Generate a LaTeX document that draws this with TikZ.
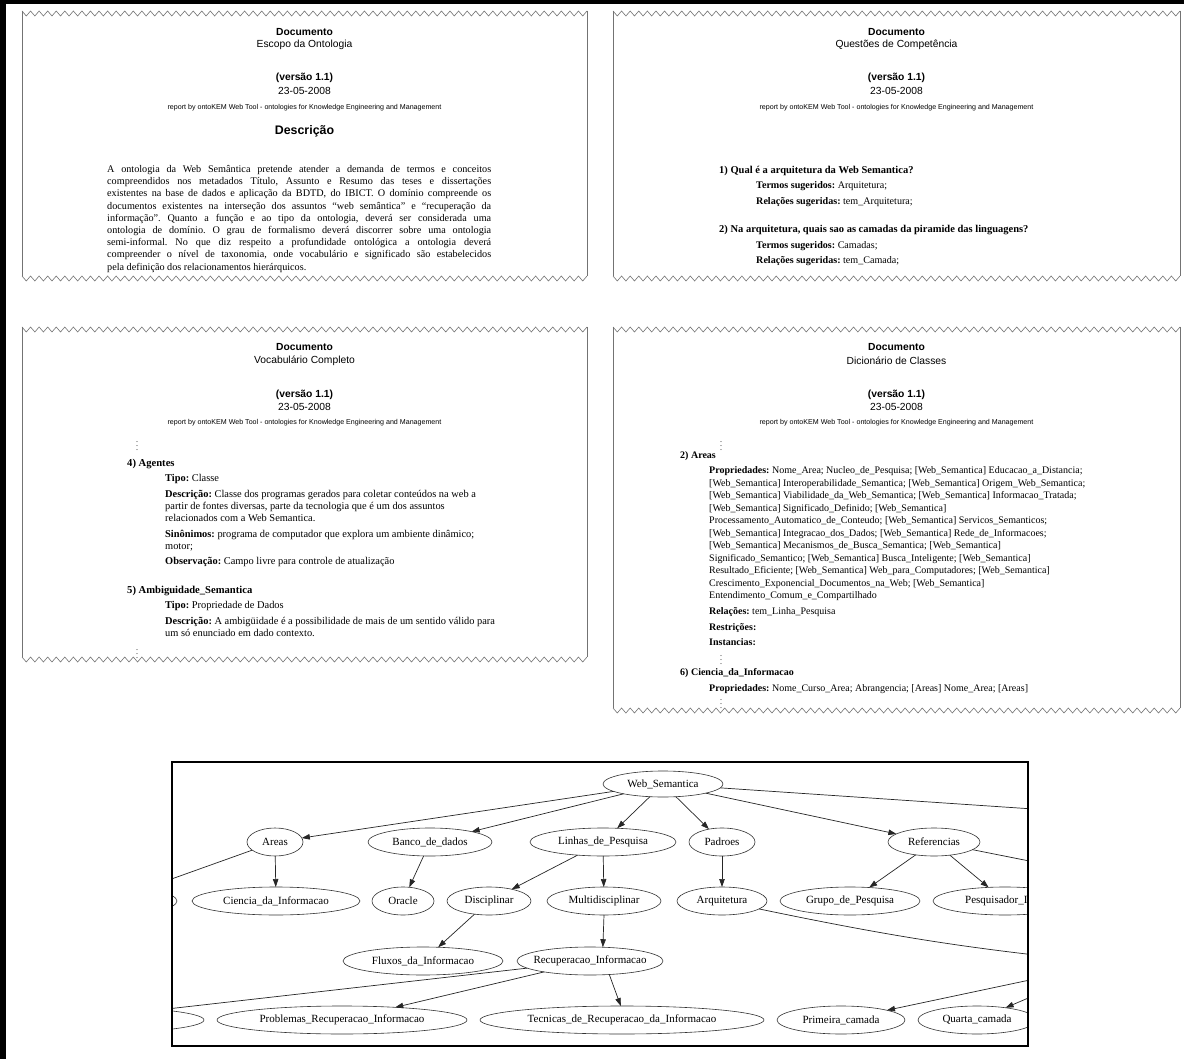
\documentclass[tikz,border=0pt]{standalone}
\usepackage{fontspec}
\setmainfont{Liberation Serif}
\newfontfamily\arialf{Liberation Sans}
\usetikzlibrary{arrows.meta,shapes.geometric}
\frenchspacing
\newcommand\lbl[1]{\makebox[0pt]{#1}}
\newcommand\docpanel[5]{%
 \pgfmathsetmacro\zhalf{(#2-#1)/#5/2}%
 \draw[panelline] (#1,#3) \foreach \i in {1,...,#5}{ -- ++(\zhalf,5) -- ++(\zhalf,-5)};
 \draw[panelline] (#1,#4) \foreach \i in {1,...,#5}{ -- ++(\zhalf,5) -- ++(\zhalf,-5)};
 \draw[panelline] (#1,#3) -- (#1,#4) (#2,#3) -- (#2,#4);
}
\begin{document}
\begin{tikzpicture}[x=1pt,y=-1pt,
  panelline/.style={draw=black!55,line width=0.6pt},
  hdrb/.style={inner sep=0,font=\arialf\bfseries\fontsize{10.3}{12}\selectfont},
  hdr/.style={inner sep=0,font=\arialf\fontsize{10.3}{12}\selectfont},
  rep/.style={inner sep=0,font=\arialf\fontsize{7.1}{9}\selectfont},
  desc/.style={inner sep=0,font=\arialf\bfseries\fontsize{12.4}{14}\selectfont},
  body/.style={inner sep=0,anchor=west,text height=7pt,text depth=2pt,font=\fontsize{10}{12}\selectfont},
  bodyb/.style={body,font=\bfseries\fontsize{10}{12}\selectfont},
  bodyL/.style={body,font=\fontsize{10.4}{12}\selectfont},
  bodyLb/.style={body,font=\bfseries\fontsize{10.6}{12}\selectfont},
  bodyT/.style={body,font=\fontsize{10.1}{12}\selectfont},
  bodyTb/.style={body,font=\bfseries\fontsize{10.5}{12}\selectfont},
  para/.style={body,font=\frenchspacing\fontsize{10.2}{12}\selectfont},
  dots/.style={inner sep=0,font=\fontsize{8}{9}\selectfont},
  gnode/.style={ellipse,draw=black!80,line width=0.6pt,inner sep=0,outer sep=0,minimum height=28pt,font=\fontsize{11}{13}\selectfont},
  gedge/.style={draw=black!85,line width=0.7pt,-{Triangle[length=8pt,width=5.5pt]}}]
\useasboundingbox (0,0) rectangle (1184,1059);
\fill[white] (0,0) rectangle (1184,1059);
\fill[black] (0,0) rectangle (1184,4);
\fill[black] (0,0) rectangle (6,1059);

% ---------- panels ----------
\docpanel{22}{587}{11}{276}{66}
\docpanel{613}{1180}{11}{276}{66}
\docpanel{22}{587}{327}{657}{66}
\docpanel{613}{1180}{327}{708}{66}

% ---------- top-left ----------
\node[hdrb] (a1) at (304.5,32) {Documento};
\node[hdr]  (a2) at (304.5,45) {Escopo da Ontologia};
\node[hdrb] (a3) at (304.5,78) {(versão 1.1)};
\node[hdr]  (a4) at (304.5,91) {23-05-2008};
\node[rep]  (a5) at (304.5,108) {report by ontoKEM Web Tool - ontologies for Knowledge Engineering and Management};
\node[desc] (a6) at (304.5,131) {Descrição};
\node[para] (p1) at (107,170) {\makebox[384pt][s]{A ontologia da Web Semântica pretende atender a demanda de termos e conceitos}};
\node[para] (p2) at (107,182.2) {\makebox[384pt][s]{compreendidos nos metadados Título, Assunto e Resumo das teses e dissertações}};
\node[para] (p3) at (107,194.4) {\makebox[384pt][s]{existentes na base de dados e aplicação da BDTD, do IBICT. O domínio compreende os}};
\node[para] (p4) at (107,206.6) {\makebox[384pt][s]{documentos existentes na interseção dos assuntos “web semântica” e “recuperação da}};
\node[para] (p5) at (107,218.8) {\makebox[384pt][s]{informação”. Quanto a função e ao tipo da ontologia, deverá ser considerada uma}};
\node[para] (p6) at (107,231) {\makebox[384pt][s]{ontologia de domínio. O grau de formalismo deverá discorrer sobre uma ontologia}};
\node[para] (p7) at (107,243.2) {\makebox[384pt][s]{semi-informal. No que diz respeito a profundidade ontológica a ontologia deverá}};
\node[para] (p8) at (107,255.4) {\makebox[384pt][s]{compreender o nível de taxonomia, onde vocabulário e significado são estabelecidos}};
\node[para] (p9) at (107,267.6) {pela definição dos relacionamentos hierárquicos.};

% ---------- top-right ----------
\node[hdrb] (b1) at (896.5,32) {Documento};
\node[hdr]  (b2) at (896.5,45) {Questões de Competência};
\node[hdrb] (b3) at (896.5,78) {(versão 1.1)};
\node[hdr]  (b4) at (896.5,91) {23-05-2008};
\node[rep]  (b5) at (896.5,108) {report by ontoKEM Web Tool - ontologies for Knowledge Engineering and Management};
\node[bodyTb] (q1) at (719,171) {1) Qual é a arquitetura da Web Semantica?};
\node[bodyT] (q2) at (756,186) {\textbf{Termos sugeridos:} Arquitetura;};
\node[bodyT] (q3) at (756,202) {\textbf{Relações sugeridas:} tem\_Arquitetura;};
\node[bodyTb] (q4) at (719,230) {2) Na arquitetura, quais sao as camadas da piramide das linguagens?};
\node[bodyT] (q5) at (756,246) {\textbf{Termos sugeridos:} Camadas;};
\node[bodyT] (q6) at (756,261) {\textbf{Relações sugeridas:} tem\_Camada;};

% ---------- bottom-left ----------
\node[hdrb] (c1) at (304.5,347) {Documento};
\node[hdr]  (c2) at (304.5,361) {Vocabulário Completo};
\node[hdrb] (c3) at (304.5,395) {(versão 1.1)};
\node[hdr]  (c4) at (304.5,407) {23-05-2008};
\node[rep]  (c5) at (304.5,423) {report by ontoKEM Web Tool - ontologies for Knowledge Engineering and Management};
\node[dots] (cd1) at (137,443) {$\vdots$};
\node[bodyLb] (v1) at (127,464) {4) Agentes};
\node[bodyL] (v2) at (165,479) {\textbf{Tipo:} Classe};
\node[bodyL] (v3) at (165,495) {\textbf{Descrição:} Classe dos programas gerados para coletar conteúdos na web a};
\node[bodyL] (v4) at (165,507) {partir de fontes diversas, parte da tecnologia que é um dos assuntos};
\node[bodyL] (v5) at (165,519) {relacionados com a Web Semantica.};
\node[bodyL] (v6) at (165,535) {\textbf{Sinônimos:} programa de computador que explora um ambiente dinâmico;};
\node[bodyL] (v7) at (165,547) {motor;};
\node[bodyL] (v8) at (165,562) {\textbf{Observação:} Campo livre para controle de atualização};
\node[bodyLb] (v9) at (127,591) {5) Ambiguidade\_Semantica};
\node[bodyL] (v10) at (165,606) {\textbf{Tipo:} Propriedade de Dados};
\node[bodyL] (v11) at (165,622) {\textbf{Descrição:} A ambigüidade é a possibilidade de mais de um sentido válido para};
\node[bodyL] (v12) at (165,634) {um só enunciado em dado contexto.};
\node[dots] (cd2) at (137,651) {$\vdots$};

% ---------- bottom-right ----------
\node[hdrb] (d1) at (896.5,347) {Documento};
\node[hdr]  (d2) at (896.5,361) {Dicionário de Classes};
\node[hdrb] (d3) at (896.5,395) {(versão 1.1)};
\node[hdr]  (d4) at (896.5,407) {23-05-2008};
\node[rep]  (d5) at (896.5,423) {report by ontoKEM Web Tool - ontologies for Knowledge Engineering and Management};
\node[dots] (dd1) at (721,443) {$\vdots$};
\node[bodyb] (e1) at (680,456) {2) Areas};
\node[body] (e2) at (709,471) {\textbf{Propriedades:} Nome\_Area; Nucleo\_de\_Pesquisa; [Web\_Semantica] Educacao\_a\_Distancia;};
\node[body] (e3) at (709,483.5) {[Web\_Semantica] Interoperabilidade\_Semantica; [Web\_Semantica] Origem\_Web\_Semantica;};
\node[body] (e4) at (709,496) {[Web\_Semantica] Viabilidade\_da\_Web\_Semantica; [Web\_Semantica] Informacao\_Tratada;};
\node[body] (e5) at (709,508.5) {[Web\_Semantica] Significado\_Definido; [Web\_Semantica]};
\node[body] (e6) at (709,521) {Processamento\_Automatico\_de\_Conteudo; [Web\_Semantica] Servicos\_Semanticos;};
\node[body] (e7) at (709,533.5) {[Web\_Semantica] Integracao\_dos\_Dados; [Web\_Semantica] Rede\_de\_Informacoes;};
\node[body] (e8) at (709,546) {[Web\_Semantica] Mecanismos\_de\_Busca\_Semantica; [Web\_Semantica]};
\node[body] (e9) at (709,558.5) {Significado\_Semantico; [Web\_Semantica] Busca\_Inteligente; [Web\_Semantica]};
\node[body] (e10) at (709,571) {Resultado\_Eficiente; [Web\_Semantica] Web\_para\_Computadores; [Web\_Semantica]};
\node[body] (e11) at (709,583.5) {Crescimento\_Exponencial\_Documentos\_na\_Web; [Web\_Semantica]};
\node[body] (e12) at (709,596) {Entendimento\_Comum\_e\_Compartilhado};
\node[body] (e13) at (709,612) {\textbf{Relações:} tem\_Linha\_Pesquisa};
\node[bodyb] (e14) at (709,628) {Restrições:};
\node[bodyb] (e15) at (709,643) {Instancias:};
\node[dots] (dd2) at (721,657) {$\vdots$};
\node[bodyb] (e16) at (680,673) {6) Ciencia\_da\_Informacao};
\node[body] (e17) at (709,689) {\textbf{Propriedades:} Nome\_Curso\_Area; Abrangencia; [Areas] Nome\_Area; [Areas]};
\node[dots] (dd3) at (721,701) {$\vdots$};

% ---------- graph ----------
\begin{scope}
\clip (172,762) rectangle (1028,1046);
\node[gnode,minimum width=120pt,minimum height=26pt] (ws) at (663,784) {\lbl{Web\_Semantica}};
\node[gnode,minimum width=56pt] (areas) at (275,842) {\lbl{Areas}};
\node[gnode,minimum width=124pt] (banco) at (430,842) {\lbl{Banco\_de\_dados}};
\node[gnode,minimum width=146pt] (linhas) at (603,842) {\lbl{Linhas\_de\_Pesquisa}};
\node[gnode,minimum width=66pt] (padroes) at (722,842) {\lbl{Padroes}};
\node[gnode,minimum width=92pt] (refs) at (934,842) {\lbl{Referencias}};
\node[gnode,minimum width=134pt] (hidL2) at (110,901) {};
\node[gnode,minimum width=168pt] (ciencia) at (276,901) {\lbl{Ciencia\_da\_Informacao}};
\node[gnode,minimum width=62pt] (oracle) at (403,901) {\lbl{Oracle}};
\node[gnode,minimum width=84pt] (discip) at (489,901) {\lbl{Disciplinar}};
\node[gnode,minimum width=114pt] (multi) at (604,901) {\lbl{Multidisciplinar}};
\node[gnode,minimum width=90pt] (arq) at (722,901) {\lbl{Arquitetura}};
\node[gnode,minimum width=140pt] (grupo) at (850,901) {\lbl{Grupo\_de\_Pesquisa}};
\node[gnode,minimum width=144pt] (pesq) at (1005,901) {};
\node[inner sep=0,anchor=west,font=\fontsize{11}{13}\selectfont] (pesqt) at (965,901) {Pesquisador\_I};
\node[gnode,minimum width=160pt] (fluxos) at (423,961) {\lbl{Fluxos\_da\_Informacao}};
\node[gnode,minimum width=146pt] (recup) at (590,961) {\lbl{Recuperacao\_Informacao}};
\node[gnode,minimum width=268pt] (hidL4) at (70,1020) {};
\node[gnode,minimum width=250pt] (probl) at (342,1020) {\lbl{Problemas\_Recuperacao\_Informacao}};
\node[gnode,minimum width=284pt] (tecn) at (622,1020) {\lbl{Tecnicas\_de\_Recuperacao\_da\_Informacao}};
\node[gnode,minimum width=128pt] (prim) at (841,1020) {\lbl{Primeira\_camada}};
\node[gnode,minimum width=118pt] (quarta) at (977,1020) {\lbl{Quarta\_camada}};
\coordinate (hidWS) at (1300,827);
\coordinate (hidRef) at (1230,901);
\coordinate (hidCam) at (1110,963);
\draw[gedge] (ws) -- (areas);
\draw[gedge] (ws) -- (banco);
\draw[gedge] (ws) -- (linhas);
\draw[gedge] (ws) -- (padroes);
\draw[gedge] (ws) -- (refs);
\draw[gedge] (ws) -- (hidWS);
\draw[gedge] (areas) -- (hidL2);
\draw[gedge] (areas) -- (ciencia);
\draw[gedge] (banco) -- (oracle);
\draw[gedge] (linhas) -- (discip);
\draw[gedge] (linhas) -- (multi);
\draw[gedge] (padroes) -- (arq);
\draw[gedge] (refs) -- (grupo);
\draw[gedge] (refs) -- (pesq);
\draw[gedge] (refs) -- (hidRef);
\draw[gedge] (discip) -- (fluxos);
\draw[gedge] (multi.south) -- (recup.47);
\draw[gedge] (arq) to[bend right=3] (hidCam);
\draw[gedge] (recup) -- (hidL4);
\draw[gedge] (recup) -- (probl);
\draw[gedge] (recup.-35) -- (tecn.95);
\draw[gedge] (hidCam) -- (prim);
\draw[gedge] (hidCam) -- (quarta);
\end{scope}
\draw[line width=2pt] (172,762) rectangle (1028,1046);
\end{tikzpicture}
\end{document}
